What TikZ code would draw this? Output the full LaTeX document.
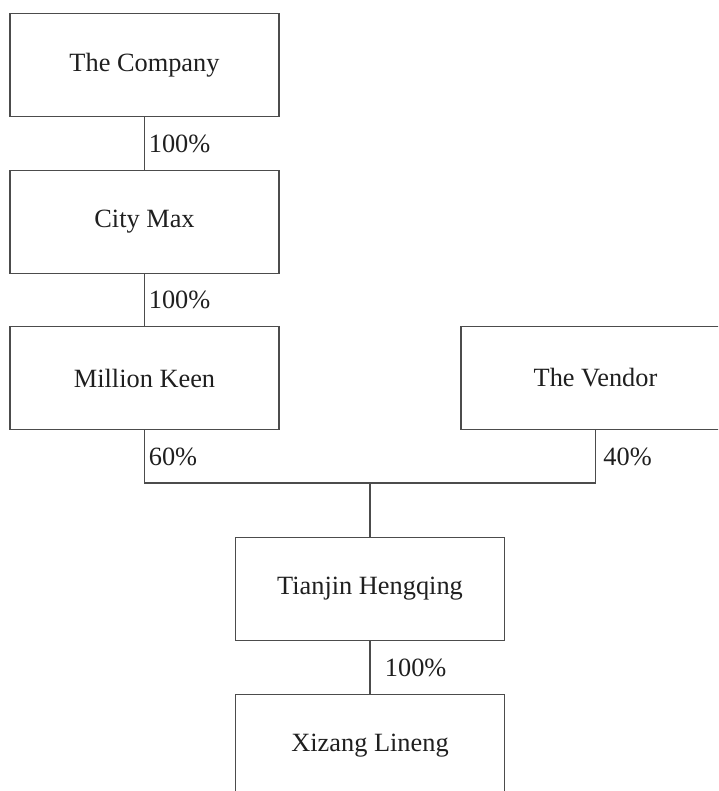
\documentclass[tikz,border=0pt]{standalone}
\usepackage{fontspec}
\setmainfont{Liberation Serif}
\begin{document}
\begin{tikzpicture}[
  x=0.02cm, y=-0.02cm,
  fam/.style={draw=black!70, line width=1pt, minimum width=5.38cm, minimum height=2.06cm, text=black!88, font=\fontsize{15}{18}\selectfont},
  pct/.style={text=black!88, inner sep=2pt, font=\fontsize{15}{18}\selectfont},
  link/.style={draw=black!70, line width=1pt}
]
\useasboundingbox (0,0) rectangle (718,791);
\clip (0,0) rectangle (718,791);

\node[fam] (co) at (144.5, 65) {The Company};
\node[fam] (cm) at (144.5, 222) {City Max};
\node[fam] (mk) at (144.5, 378) {Million Keen};
\node[fam] (vd) at (595.5, 378) {The Vendor};
\node[fam] (th) at (370, 589) {Tianjin Hengqing};
\node[fam] (xl) at (370, 746) {Xizang Lineng};

\coordinate (jn) at (370, 483);

\draw[link] (co.south) -- node[pct, right] {100\%} (cm.north);
\draw[link] (cm.south) -- node[pct, right] {100\%} (mk.north);
\draw[link] (mk.south) -- node[pct, right] {60\%} (mk.south |- jn) -- (vd.south |- jn) -- node[pct, right, xshift=2pt] {40\%} (vd.south);
\draw[link] (jn) -- (th.north);
\draw[link] (th.south) -- node[pct, right, xshift=6pt] {100\%} (xl.north);
\end{tikzpicture}
\end{document}
